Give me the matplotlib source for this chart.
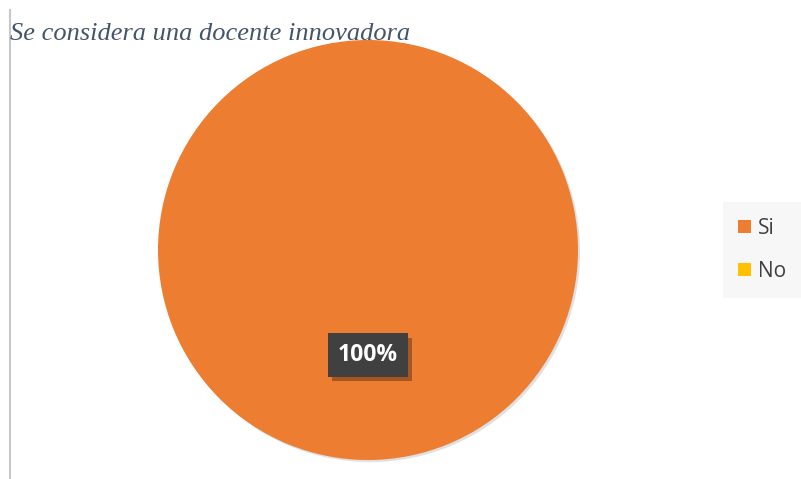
import matplotlib.pyplot as plt
from matplotlib.patches import Patch
from matplotlib.lines import Line2D
import matplotlib.patheffects as pe

# datos
categorias = ['Si', 'No']
valores = [100, 0]
colores = ['#ED7D31', '#FFC000']
titulo = 'Se considera una docente innovadora'

W, H = 801, 479
fig = plt.figure(figsize=(W / 100, H / 100), dpi=100)
fig.patch.set_facecolor('white')

# ejes del pastel: centro (368, 250), radio 210 px
cx, cy, r = 368, 250, 210
ax = fig.add_axes([(cx - r) / W, 1 - (cy + r) / H, 2 * r / W, 2 * r / H])
wedges, texts, autotexts = ax.pie(
    valores, colors=colores, startangle=90, counterclock=False,
    autopct=lambda p: '{:.0f}%'.format(p) if p > 0 else '',
    pctdistance=0.5, radius=1.0,
    wedgeprops=dict(linewidth=0))
ax.set_xlim(-1, 1)
ax.set_ylim(-1, 1)
ax.set_aspect('equal')
ax.axis('off')

for w in wedges:
    w.set_path_effects([pe.SimplePatchShadow(offset=(1.5, -1.5), alpha=0.12,
                                             shadow_rgbFace='black'),
                        pe.Normal()])

for t in autotexts:
    t.set_color('white')
    t.set_fontweight('bold')
    t.set_fontsize(16.5)
    t.set_fontfamily('Open Sans')
    t.set_bbox(dict(boxstyle='square,pad=0.42', fc='#404040', ec='none'))
    t.get_bbox_patch().set_path_effects([
        pe.SimplePatchShadow(offset=(3, -3), alpha=0.3, shadow_rgbFace='black'),
        pe.Normal()])

# titulo
fig.text(10 / W, 1 - 40 / H, titulo, fontsize=19, fontstyle='italic',
         family='Liberation Serif', color='#44546A', ha='left', va='baseline')

# linea vertical a la izquierda
fig.add_artist(Line2D([10 / W, 10 / W], [0, 1 - 10 / H], color='#C8C8C8',
                      linewidth=1.5, transform=fig.transFigure))

# leyenda
handles = [Patch(facecolor=c, edgecolor='none') for c in colores]
leg = fig.legend(handles, categorias, loc='center',
                 bbox_to_anchor=(762 / W, 1 - 250 / H),
                 frameon=True, facecolor='#F7F7F7', edgecolor='none',
                 fancybox=False, framealpha=1,
                 prop={'family': 'Open Sans', 'size': 15},
                 labelcolor='#404040', handlelength=0.62, handleheight=0.62,
                 handletextpad=0.3, labelspacing=1.05, borderpad=0.75)

fig.savefig('out.png', dpi=100)
